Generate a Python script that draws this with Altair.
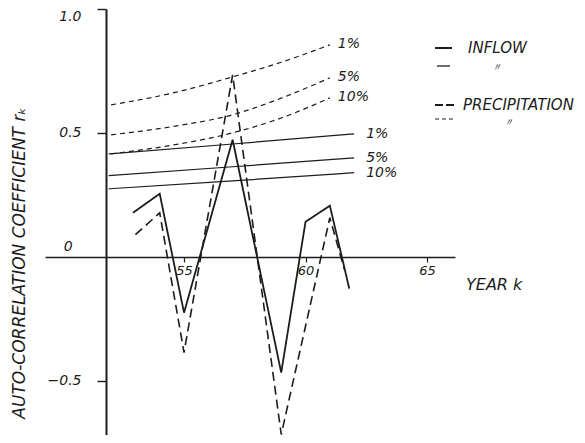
import altair as alt
import pandas as pd

# ---- data ----
years_inflow = [52.9, 54, 55, 57, 59, 60, 61, 61.8]
r_inflow = [0.177, 0.254, -0.226, 0.472, -0.468, 0.141, 0.206, -0.129]

years_precip = [53, 54, 55, 57, 59, 61, 61.6]
r_precip = [0.089, 0.177, -0.387, 0.734, -0.718, 0.157, -0.052]

# significance limits, inflow (solid)
sig_years_inflow = [51.9, 57, 62]
inflow_1 = [0.415, 0.455, 0.496]
inflow_5 = [0.327, 0.363, 0.399]
inflow_10 = [0.274, 0.306, 0.339]

# significance limits, precipitation (dashed)
sig_years_precip = [52, 54.5, 57, 59, 61]
precip_1 = [0.613, 0.66, 0.726, 0.785, 0.855]
precip_5 = [0.492, 0.525, 0.573, 0.64, 0.722]
precip_10 = [0.415, 0.45, 0.50, 0.56, 0.641]

x_ticks = [55, 60, 65]
y_ticks = [1.0, 0.5, -0.5]
sig_labels = ["1%", "5%", "10%"]

# ---- build tables ----
FONT = "DejaVu Sans"
INK = "#1c1c1c"

inflow_df = pd.DataFrame({"year": years_inflow, "r": r_inflow})
precip_df = pd.DataFrame({"year": years_precip, "r": r_precip})

rows = []
for lab, vals in zip(sig_labels, [inflow_1, inflow_5, inflow_10]):
    for y, v in zip(sig_years_inflow, vals):
        rows.append({"name": "in" + lab, "year": y, "r": v})
sig_in_df = pd.DataFrame(rows)
rows = []
for lab, vals in zip(sig_labels, [precip_1, precip_5, precip_10]):
    for y, v in zip(sig_years_precip, vals):
        rows.append({"name": "pr" + lab, "year": y, "r": v})
sig_pr_df = pd.DataFrame(rows)

lab_in_df = pd.DataFrame({
    "year": [sig_years_inflow[-1]] * 3,
    "r": [inflow_1[-1], inflow_5[-1], inflow_10[-1]],
    "label": sig_labels,
})
lab_pr_df = pd.DataFrame({
    "year": [sig_years_precip[-1]] * 3,
    "r": [precip_1[-1], precip_5[-1], precip_10[-1]],
    "label": sig_labels,
})
zero_df = pd.DataFrame({"year": [50.23], "r": [0.0], "label": ["0"]})

W, H = 410, 426
xs = alt.Scale(domain=[49.28, 66.15], nice=False, zero=False)
ys = alt.Scale(domain=[-0.72, 1.0], nice=False, zero=False)

x_axis = alt.Axis(values=x_ticks, format="d", offset=-178, tickSize=5, labelPadding=2,
                  domainColor=INK, domainWidth=1.6, tickColor=INK, tickWidth=1.2,
                  labelFont=FONT, labelFontStyle="italic", labelFontSize=13,
                  labelColor=INK, grid=False, title=None, labelFlush=False)
y_axis = alt.Axis(values=y_ticks, format=".1f", offset=-61, tickSize=9, labelPadding=16,
                  domainColor=INK, domainWidth=2, tickColor=INK, tickWidth=1.4,
                  labelFont=FONT, labelFontStyle="italic", labelFontSize=14,
                  labelBaseline={"condition": {"test": "datum.value == 1", "value": "top"},
                                 "value": "middle"},
                  labelColor=INK, grid=False, title=None, labelFlush=False)

X = alt.X("year:Q", scale=xs, axis=x_axis)
Y = alt.Y("r:Q", scale=ys, axis=y_axis)

inflow = alt.Chart(inflow_df).mark_line(color=INK, strokeWidth=1.8).encode(x=X, y=Y, order="year:Q")
precip = alt.Chart(precip_df).mark_line(color=INK, strokeWidth=1.6, strokeDash=[9, 5]).encode(
    x=X, y=Y, order="year:Q")
sig_in = alt.Chart(sig_in_df).mark_line(color=INK, strokeWidth=1.2, interpolate="monotone").encode(
    x=X, y=Y, detail="name:N", order="year:Q")
sig_pr = alt.Chart(sig_pr_df).mark_line(color=INK, strokeWidth=1.2, strokeDash=[5, 4],
                                        interpolate="monotone").encode(
    x=X, y=Y, detail="name:N", order="year:Q")

txt = dict(font=FONT, fontStyle="italic", fontSize=14, color=INK)
lab_in = alt.Chart(lab_in_df).mark_text(align="left", baseline="middle", dx=12, **txt).encode(
    x=X, y=Y, text="label:N")
lab_pr = alt.Chart(lab_pr_df).mark_text(align="left", baseline="middle", dx=8, dy=-1, **txt).encode(
    x=X, y=Y, text="label:N")
zero_lab = alt.Chart(zero_df).mark_text(align="center", baseline="middle", dy=-10, **txt).encode(
    x=X, y=Y, text="label:N")

# titles
xtitle = alt.Chart(pd.DataFrame({"t": ["YEAR k"]})).mark_text(
    align="left", baseline="middle", font=FONT, fontStyle="italic", fontSize=16, color=INK).encode(
    x=alt.value(421), y=alt.value(276), text="t:N")
ytitle = alt.Chart(pd.DataFrame({"t": ["AUTO-CORRELATION COEFFICIENT r\u2096"]})).mark_text(
    align="center", baseline="middle", angle=270, font=FONT, fontStyle="italic", fontSize=17,
    color=INK).encode(x=alt.value(-25), y=alt.value(254), text="t:N")

# legend
leg = []
leg.append(alt.Chart(pd.DataFrame({"a": [0]})).mark_rule(color=INK, strokeWidth=2).encode(
    x=alt.value(390), x2=alt.value(407), y=alt.value(39)))
leg.append(alt.Chart(pd.DataFrame({"a": [0]})).mark_rule(color=INK, strokeWidth=1.3).encode(
    x=alt.value(392), x2=alt.value(405), y=alt.value(57)))
leg.append(alt.Chart(pd.DataFrame({"a": [0]})).mark_rule(color=INK, strokeWidth=1.8, strokeDash=[8, 3]).encode(
    x=alt.value(390), x2=alt.value(409), y=alt.value(96)))
leg.append(alt.Chart(pd.DataFrame({"a": [0]})).mark_rule(color=INK, strokeWidth=1.2, strokeDash=[4, 3]).encode(
    x=alt.value(390), x2=alt.value(408), y=alt.value(110)))
leg_text = pd.DataFrame({
    "t": ["INFLOW", "PRECIPITATION"],
    "px": [423, 418],
    "py": [39, 96],
})
leg.append(alt.Chart(leg_text).mark_text(align="left", baseline="middle", font=FONT,
                                         fontStyle="italic", fontSize=15, color=INK).encode(
    x=alt.X("px:Q", scale=None), y=alt.Y("py:Q", scale=None), text="t:N"))
ditto_text = pd.DataFrame({
    "t": ["\u3003", "\u3003"],
    "px": [446, 458],
    "py": [59, 114],
})
leg.append(alt.Chart(ditto_text).mark_text(align="left", baseline="middle", font=FONT,
                                           fontStyle="italic", fontSize=11, color=INK).encode(
    x=alt.X("px:Q", scale=None), y=alt.Y("py:Q", scale=None), text="t:N"))

chart = alt.layer(sig_pr, sig_in, precip, inflow, lab_in, lab_pr, zero_lab, xtitle, ytitle, *leg).properties(
    width=W, height=H,
    autosize=alt.AutoSizeParams(type="none"),
    padding={"left": 37, "top": 1, "right": 122, "bottom": 0},
    background="white",
).configure_view(stroke=None)

chart.save("out.html", embed_options={"renderer": "svg", "actions": False})
